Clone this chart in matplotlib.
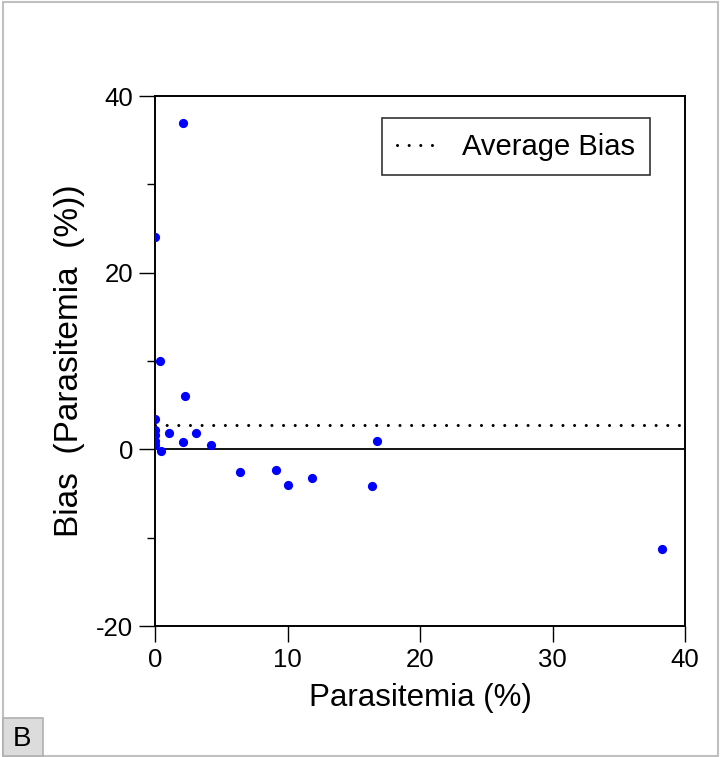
import matplotlib.pyplot as plt
from matplotlib.patches import Rectangle

plt.rcParams['font.family'] = ['Liberation Sans', 'DejaVu Sans']
plt.rcParams['axes.unicode_minus'] = False

# parasitemia (%) vs bias
parasitemia = [0.0, 2.1, 0.4, 2.3, 0.0, 1.05, 3.1, 2.1, 4.2, 0.45,
               0.0, 0.0, 0.0, 0.0, 6.4, 9.1, 10.0, 11.85, 16.4, 16.75, 38.3]
bias = [24.0, 36.9, 10.0, 6.0, 3.4, 1.9, 1.8, 0.8, 0.45, -0.2,
        2.2, 1.6, 1.0, 0.5, -2.6, -2.3, -4.0, -3.3, -4.2, 1.0, -11.3]
avg_bias = 2.8

xticks = [0, 10, 20, 30, 40]
yticks = [-20, 0, 20, 40]
yminor = [-10, 10, 30]

fig = plt.figure(figsize=(7.22, 7.57), dpi=100)
ax = fig.add_axes([155/722, 1 - 626/757, 530/722, 530/757])

ax.scatter(parasitemia, bias, s=44, color='#0000ff', zorder=3, linewidths=0)
ax.axhline(0, color='black', lw=1.3, zorder=2)
ax.axhline(avg_bias, color='black', lw=2.2, linestyle=(0, (0.01, 3.8)),
           dash_capstyle='round', label='Average Bias', zorder=2)

ax.set_xlim(0, 40)
ax.set_ylim(-20, 40)
ax.set_xticks(xticks)
ax.set_yticks(yticks)
ax.set_yticks(yminor, minor=True)
ax.tick_params(axis='both', which='major', direction='out', length=11.5, width=1.0,
               labelsize=18.5, color='black', pad=4)
ax.tick_params(axis='y', which='minor', direction='out', length=6, width=1.0)
for s in ax.spines.values():
    s.set_linewidth(1.4)

ax.set_xlabel('Parasitemia (%)', fontsize=22.5, labelpad=8)
ax.set_ylabel('Bias  (Parasitemia  (%))', fontsize=24, labelpad=8)

leg = ax.legend(loc='upper right', bbox_to_anchor=(0.934, 0.958), fontsize=21,
                frameon=True, fancybox=False, edgecolor='black', borderaxespad=0,
                handlelength=1.4, handletextpad=0.85, borderpad=0.5)
leg.get_frame().set_linewidth(1.2)

# outer gray frame and panel tag
fig.patches.append(Rectangle((3/722, 1/757), 715/722, 754/757, transform=fig.transFigure,
                             fill=False, edgecolor='#c0c0c0', lw=1.5))
fig.patches.append(Rectangle((3/722, 1/757), 40/722, 38/757, transform=fig.transFigure,
                             facecolor='#dcdcdc', edgecolor='#b0b0b0', lw=1.2))
fig.text(22/722, 1 - 739/757, 'B', fontsize=20, ha='center', va='center')

fig.savefig('out.png', dpi=100)
